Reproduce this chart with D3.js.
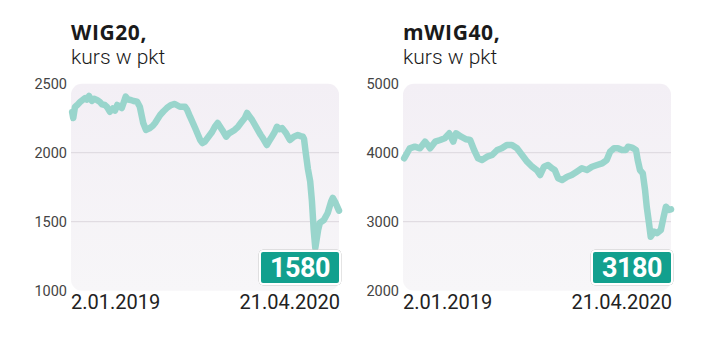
<!DOCTYPE html>
<html><head><meta charset="utf-8">
<script src="https://cdn.jsdelivr.net/npm/d3@7"></script>
<style>
html,body{margin:0;padding:0;background:#fff;}
svg{display:block;font-family:Roboto,"Noto Sans",sans-serif;}
</style></head>
<body><svg id="c" width="720" height="359"></svg>
<script>
// Days since 2.01.2019 and index values (pkt)
const wigDays = [2,4,7,11,16,20,25,28,32,37,41,46,51,55,60,64,69,74,78,82,86,90,97,101,106,111,117,122,128,133,140,145,149,158,164,170,177,184,193,202,206,211,220,229,233,237,246,250,255,260,268,275,280,285,290,296,302,308,312,316,321,331,336,340,347,352,356,361,365,370,374,381,388,395,402,407,411,413,416,420,424,427,430,433,438,441,448,455,461,464,469,475];
const wigValues = [2295,2251,2331,2345,2367,2380,2396,2385,2411,2375,2390,2382,2368,2350,2346,2330,2297,2320,2305,2346,2335,2324,2406,2385,2382,2375,2370,2333,2215,2165,2179,2195,2215,2273,2300,2324,2345,2353,2333,2333,2310,2261,2179,2092,2070,2080,2128,2150,2188,2215,2165,2116,2140,2152,2165,2188,2220,2251,2288,2265,2237,2165,2130,2106,2056,2090,2116,2150,2188,2170,2179,2143,2092,2116,2128,2120,2116,2100,2000,1880,1790,1650,1450,1310,1440,1491,1512,1563,1645,1672,1636,1580];
const mwigDays = [2,7,12,21,30,39,44,48,57,66,74,82,89,94,103,112,119,126,133,140,149,158,167,175,184,193,202,211,220,229,237,243,250,257,264,269,275,282,291,299,308,317,326,335,344,353,361,367,374,381,388,395,399,406,413,416,420,425,429,432,436,439,445,450,457,462,466,471,475];
const mwigValues = [3919,3991,4064,4087,4064,4160,4110,4064,4160,4184,4209,4281,4160,4281,4232,4194,4184,4039,3919,3894,3942,3967,4039,4064,4112,4112,4064,3967,3870,3797,3749,3677,3797,3822,3774,3749,3629,3604,3652,3677,3725,3774,3749,3797,3822,3846,3894,4015,4064,4064,4039,4039,4087,4073,4039,3894,3749,3701,3459,3217,2977,2783,2855,2832,2880,3073,3217,3170,3180];
const startDate = new Date(2019,0,2);
const endDate = new Date(2020,3,21);
const xTickLabels = ["2.01.2019","21.04.2020"];
const wigTicks = [1000,1500,2000,2500];
const mwigTicks = [2000,3000,4000,5000];
const titles = ["WIG20,","mWIG40,"];
const subtitle = "kurs w pkt";
const lastValues = ["1580","3180"];

const svg = d3.select("#c");
const defs = svg.append("defs");
const grad = defs.append("linearGradient").attr("id","bg").attr("x1",0).attr("y1",0).attr("x2",0).attr("y2",1);
grad.append("stop").attr("offset","0%").attr("stop-color","#f3eff5");
grad.append("stop").attr("offset","100%").attr("stop-color","#f7f6f8");

function panel(left, days, values, ticks, title, last){
  const x0 = left, x1 = left + 268, yTop = 83.7, yBot = 290.7;
  const x = d3.scaleTime().domain([startDate,endDate]).range([x0,x1]);
  const y = d3.scaleLinear().domain([ticks[0],ticks[ticks.length-1]]).range([yBot,yTop]);
  const g = svg.append("g");
  g.append("rect").attr("x",x0).attr("y",yTop).attr("width",x1-x0).attr("height",yBot-yTop)
    .attr("rx",11).attr("fill","url(#bg)");
  g.selectAll("line.grid").data(ticks.slice(1,-1)).join("line")
    .attr("x1",x0).attr("x2",x1).attr("y1",d=>y(d)).attr("y2",d=>y(d))
    .attr("stroke","#dcd7dd").attr("stroke-width",1);
  g.selectAll("text.yt").data(ticks).join("text")
    .attr("x",x0-4).attr("y",d=>y(d)).attr("dy","0.36em").attr("text-anchor","end")
    .attr("font-size",14.5).attr("fill","#444").text(d=>d);
  const pts = days.map((d,i)=>({date:d3.timeDay.offset(startDate,d), v:values[i]}));
  g.append("path").datum(pts)
    .attr("d",d3.line().x(d=>x(d.date)).y(d=>y(d.v)))
    .attr("fill","none").attr("stroke","#99d5cc").attr("stroke-width",6.5)
    .attr("stroke-linejoin","round").attr("stroke-linecap","round");
  g.append("text").attr("x",x0).attr("y",309).attr("font-size",20).attr("fill","#222").text(xTickLabels[0]);
  g.append("text").attr("x",x1+1).attr("y",309).attr("text-anchor","end").attr("font-size",20).attr("fill","#222").text(xTickLabels[1]);
  const bw = 80, bh = 33, bx = x1 - bw + 1, by = 251;
  g.append("rect").attr("x",bx-1).attr("y",by-1).attr("width",bw+2).attr("height",bh+2).attr("rx",4)
    .attr("fill","none").attr("stroke","#c9c9c9").attr("stroke-width",1);
  g.append("rect").attr("x",bx).attr("y",by).attr("width",bw).attr("height",bh).attr("rx",3)
    .attr("fill","#12a08e").attr("stroke","#fff").attr("stroke-width",2);
  g.append("text").attr("x",bx+bw/2).attr("y",by+bh/2).attr("dy","0.36em").attr("text-anchor","middle")
    .attr("font-size",27).attr("font-weight",700).attr("fill","#fff").attr("letter-spacing","-0.5").text(last);
  g.append("text").attr("x",x0).attr("y",40).attr("font-size",21).attr("font-weight",700)
    .attr("font-family","'Open Sans',Roboto,sans-serif").attr("letter-spacing","0.6").attr("fill","#1a1a1a").text(title);
  g.append("text").attr("x",x0).attr("y",64).attr("font-size",21).attr("font-weight",300).attr("fill","#1a1a1a").text(subtitle);
}
panel(71, wigDays, wigValues, wigTicks, titles[0], lastValues[0]);
panel(403, mwigDays, mwigValues, mwigTicks, titles[1], lastValues[1]);
</script></body></html>
